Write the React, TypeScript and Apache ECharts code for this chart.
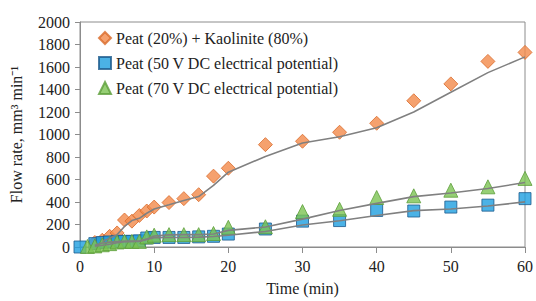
import React, { useEffect, useRef } from "react";
import * as echarts from "echarts";

// Peat (20%) + Kaolinite (80%)
const orangeX = [2, 3, 4, 5, 6, 7, 8, 9, 10, 12, 14, 16, 18, 20, 25, 30, 35, 40, 45, 50, 55, 60];
const orangeY = [40, 60, 95, 125, 240, 230, 280, 320, 355, 395, 430, 465, 630, 700, 910, 940, 1020, 1100, 1300, 1450, 1650, 1730];
// Peat (50 V DC)
const blueX = [0, 2, 3, 4, 5, 6, 7, 8, 9, 10, 12, 14, 16, 18, 20, 25, 30, 35, 40, 45, 50, 55, 60];
const blueY = [0, 30, 40, 45, 50, 50, 50, 55, 80, 85, 85, 85, 90, 95, 115, 160, 230, 235, 325, 320, 355, 372, 430];
// Peat (70 V DC)
const greenX = [1, 2, 3, 4, 5, 6, 7, 8, 9, 10, 12, 14, 16, 18, 20, 25, 30, 35, 40, 45, 50, 55, 60];
const greenY = [5, 10, 20, 30, 45, 50, 50, 50, 90, 105, 110, 110, 110, 120, 175, 180, 315, 335, 440, 455, 505, 535, 610];

// Trend lines (2-period moving average as drawn)
const orangeTrendX = [3, 4, 5, 6, 7, 8, 9, 10, 12, 14, 16, 18, 20, 25, 30, 35, 40, 45, 50, 55, 60];
const orangeTrendY = [50, 78, 110, 183, 235, 255, 300, 338, 375, 413, 448, 548, 665, 805, 925, 980, 1060, 1200, 1375, 1550, 1690];
const blueTrendX = [2, 3, 4, 5, 6, 7, 8, 9, 10, 12, 14, 16, 18, 20, 25, 30, 35, 40, 45, 50, 55, 60];
const blueTrendY = [15, 35, 43, 48, 50, 50, 53, 68, 83, 85, 85, 88, 93, 105, 138, 195, 233, 280, 323, 338, 364, 401];
const greenTrendX = [2, 3, 4, 5, 6, 7, 8, 9, 10, 12, 14, 16, 18, 20, 25, 30, 35, 40, 45, 50, 55, 60];
const greenTrendY = [8, 15, 25, 38, 48, 50, 50, 70, 98, 108, 110, 110, 115, 148, 178, 248, 325, 388, 448, 480, 520, 573];

const seriesNames = [
  "Peat (20%) + Kaolinite (80%)",
  "Peat (50 V DC electrical potential)",
  "Peat (70 V DC electrical potential)",
];

const FONT = "Liberation Serif";

const pairs = (xs: number[], ys: number[]) => xs.map((x, i) => [x, ys[i]]);

export default function App() {
  const ref = useRef<HTMLDivElement>(null);
  useEffect(() => {
    if (!ref.current) return;
    const chart = echarts.init(ref.current, undefined, { renderer: "svg" });
    const trend = (xs: number[], ys: number[]) => ({
      type: "line",
      data: pairs(xs, ys),
      symbol: "none",
      lineStyle: { color: "#808080", width: 1.6 },
      itemStyle: { color: "#808080" },
      z: 5,
      silent: true,
    });
    chart.setOption({
      animation: false,
      grid: {
        left: 80,
        right: 11,
        top: 22,
        bottom: 51,
        show: true,
        borderColor: "#8c8c8c",
        borderWidth: 1,
      },
      legend: {
        orient: "vertical",
        left: 93,
        top: 25,
        itemWidth: 12,
        itemHeight: 12,
        itemGap: 9,
        data: [
          { name: seriesNames[0], icon: "diamond" },
          { name: seriesNames[1], icon: "rect" },
          { name: seriesNames[2], icon: "triangle" },
        ],
        textStyle: { fontFamily: FONT, fontSize: 16, color: "#222" },
      },
      xAxis: {
        type: "value",
        min: 0,
        max: 60,
        interval: 10,
        name: "Time (min)",
        nameLocation: "middle",
        nameGap: 33,
        nameTextStyle: { fontFamily: FONT, fontSize: 16, color: "#222" },
        axisLine: { show: true, lineStyle: { color: "#8c8c8c" } },
        axisTick: { show: true, length: 6, lineStyle: { color: "#8c8c8c" } },
        axisLabel: { fontFamily: FONT, fontSize: 16, color: "#222", margin: 11 },
        splitLine: { show: false },
      },
      yAxis: {
        type: "value",
        min: 0,
        max: 2000,
        interval: 200,
        name: "Flow rate, mm³ min⁻¹",
        nameLocation: "middle",
        nameGap: 56,
        nameTextStyle: { fontFamily: FONT, fontSize: 16, color: "#222" },
        axisLine: { show: true, lineStyle: { color: "#8c8c8c" } },
        axisTick: { show: true, length: 5, lineStyle: { color: "#8c8c8c" } },
        axisLabel: {
          fontFamily: FONT,
          fontSize: 16,
          color: "#222",
          margin: 10,
          formatter: (v: number) => String(v),
        },
        splitLine: { show: false },
      },
      series: [
        {
          name: seriesNames[0],
          type: "scatter",
          symbol: "diamond",
          symbolSize: 14,
          data: pairs(orangeX, orangeY),
          itemStyle: { color: "#F28A4A", borderColor: "#D96A2B", borderWidth: 1 },
          z: 3,
        },
        {
          name: seriesNames[1],
          type: "scatter",
          symbol: "rect",
          symbolSize: 12,
          data: pairs(blueX, blueY),
          itemStyle: { color: "#1E9FE0", borderColor: "#1D5A8C", borderWidth: 1 },
          z: 3,
        },
        {
          name: seriesNames[2],
          type: "scatter",
          symbol: "triangle",
          symbolSize: 14,
          data: pairs(greenX, greenY),
          itemStyle: { color: "#7CC353", borderColor: "#5C9E3A", borderWidth: 1 },
          z: 4,
        },
        trend(orangeTrendX, orangeTrendY),
        trend(blueTrendX, blueTrendY),
        trend(greenTrendX, greenTrendY),
      ],
    });
    return () => chart.dispose();
  }, []);
  return (
    <>
      <style>{`#flowchart svg text { font-family: "Liberation Serif", "Times New Roman", serif !important; }`}</style>
      <div
        id="flowchart"
        ref={ref}
        style={{ width: 536, height: 301, position: "absolute", left: 0, top: 0 }}
      />
    </>
  );
}
